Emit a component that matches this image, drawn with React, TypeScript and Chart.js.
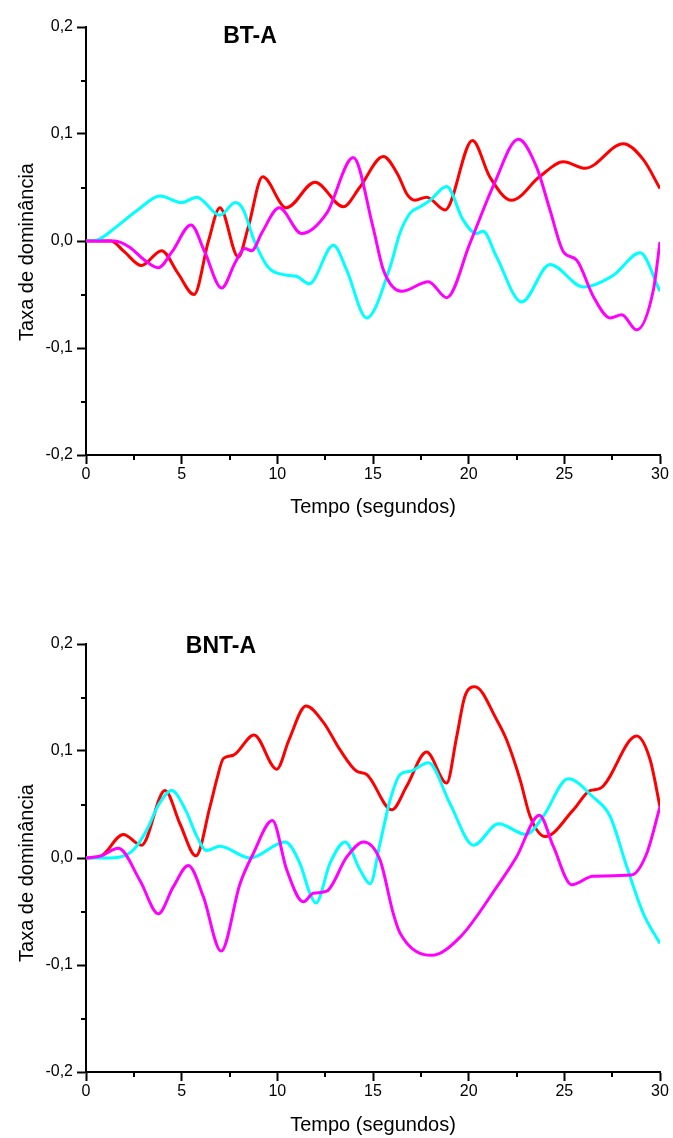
import React, { useEffect, useRef } from 'react';
import { Chart, registerables } from 'chart.js';

Chart.register(...registerables);

// ---------- shared axis data ----------
const xMajorStep = 5;
const yMajorStep = 0.1;
const xMinorTicks = [2.5, 7.5, 12.5, 17.5, 22.5, 27.5];
const yMinorTicks = [-0.15, -0.05, 0.05, 0.15];
const xTitle = 'Tempo (segundos)';
const yTitle = 'Taxa de dominância';

// ---------- BT-A ----------
const btRedT = [0, 1.3, 2.0, 2.9, 3.95, 4.8, 5.65, 6.4, 7.0, 7.96, 8.48, 9.23, 10.47, 11.97, 13.45, 14.3, 15.54, 16.3, 16.8, 17.2, 17.8, 18.77, 20.2, 21.1, 22.25, 23.7, 24.95, 26.1, 28.08, 29.13, 30];
const btRedV = [0, 0, -0.01, -0.023, -0.009, -0.03, -0.05, 0.0, 0.031, -0.015, 0.013, 0.06, 0.031, 0.055, 0.032, 0.05, 0.079, 0.062, 0.043, 0.038, 0.041, 0.029, 0.094, 0.06, 0.038, 0.06, 0.074, 0.068, 0.091, 0.076, 0.049];

const btCyanT = [0, 0.6, 1.5, 2.7, 3.87, 5.0, 5.79, 7.0, 7.8, 8.2, 8.8, 9.5, 10.5, 11.0, 11.67, 12.93, 13.62, 14.67, 15.9, 16.4, 16.94, 17.46, 17.98, 18.85, 19.7, 20.4, 20.75, 21.46, 22.77, 24.25, 26.0, 27.57, 28.96, 30];
const btCyanV = [0, 0.001, 0.012, 0.029, 0.042, 0.036, 0.041, 0.024, 0.036, 0.03, 0.0, -0.024, -0.032, -0.033, -0.04, -0.004, -0.027, -0.072, -0.024, 0.007, 0.026, 0.032, 0.038, 0.051, 0.02, 0.007, 0.009, -0.015, -0.057, -0.022, -0.043, -0.032, -0.011, -0.047];

const btMagT = [0, 1.5, 2.3, 3.0, 3.78, 4.5, 5.49, 6.2, 7.09, 7.8, 8.3, 8.66, 9.2, 10.1, 11.27, 12.58, 13.97, 15.0, 15.54, 16.5, 17.9, 18.85, 20.07, 21.3, 22.6, 23.55, 24.25, 24.95, 25.65, 26.52, 27.4, 28.0, 28.78, 29.65, 30];
const btMagV = [0, 0, -0.006, -0.017, -0.025, -0.01, 0.015, -0.01, -0.044, -0.02, -0.007, -0.009, 0.008, 0.031, 0.007, 0.026, 0.078, 0.013, -0.027, -0.047, -0.038, -0.053, -0.002, 0.052, 0.095, 0.069, 0.029, -0.01, -0.018, -0.052, -0.072, -0.069, -0.083, -0.046, -0.001];

// ---------- BNT-A ----------
const bntRedT = [0, 0.8, 1.95, 2.9, 4.13, 4.91, 5.75, 6.48, 6.83, 7.18, 7.7, 8.78, 9.97, 10.6, 11.5, 12.4, 13.28, 14.15, 14.67, 15.98, 16.76, 17.8, 18.85, 19.37, 19.8, 20.33, 21.47, 21.99, 22.69, 23.21, 24.0, 25.47, 26.34, 26.87, 28.78, 29.48, 30];
const bntRedV = [0, 0.002, 0.022, 0.012, 0.063, 0.032, 0.002, 0.048, 0.073, 0.093, 0.096, 0.115, 0.083, 0.11, 0.142, 0.127, 0.101, 0.081, 0.078, 0.045, 0.067, 0.099, 0.07, 0.113, 0.151, 0.16, 0.129, 0.11, 0.073, 0.039, 0.02, 0.045, 0.063, 0.065, 0.114, 0.092, 0.048];

const bntCyanT = [0, 1.0, 1.78, 2.5, 3.17, 3.8, 4.48, 5.2, 5.8, 6.3, 7.0, 8.57, 10.4, 11.18, 11.7, 12.02, 12.75, 13.54, 14.32, 14.85, 15.37, 15.89, 16.41, 16.94, 17.9, 19.02, 20.25, 21.56, 23.0, 23.9, 25.2, 26.5, 27.39, 28.26, 29.13, 30];
const bntCyanV = [0, 0, 0.001, 0.008, 0.026, 0.05, 0.063, 0.045, 0.02, 0.007, 0.011, 0.0, 0.015, -0.005, -0.033, -0.042, -0.005, 0.015, -0.011, -0.024, 0.014, 0.054, 0.078, 0.081, 0.089, 0.051, 0.012, 0.032, 0.022, 0.039, 0.074, 0.057, 0.039, -0.008, -0.052, -0.08];

const bntMagT = [0, 0.8, 1.69, 2.82, 3.78, 4.56, 5.35, 6.13, 7.06, 8.05, 8.74, 9.74, 10.49, 11.36, 11.88, 12.58, 13.63, 14.5, 15.37, 16.06, 16.41, 18.07, 19.55, 21.47, 22.5, 23.7, 24.42, 25.39, 26.5, 28.5, 29.3, 30];
const bntMagV = [0, 0.002, 0.009, -0.021, -0.052, -0.027, -0.007, -0.036, -0.087, -0.024, 0.004, 0.035, -0.011, -0.041, -0.033, -0.031, 0.001, 0.015, -0.002, -0.052, -0.07, -0.091, -0.074, -0.027, 0.001, 0.04, 0.011, -0.025, -0.017, -0.016, 0.004, 0.048];

const RED = '#FF0000';
const CYAN = '#00FFFF';
const MAGENTA = '#FF00FF';
const FONT = '"Liberation Sans", Arial, Helvetica, sans-serif';

const toPoints = (t: number[], v: number[]) => t.map((x, i) => ({ x, y: v[i] }));

const fmtY = (v: any) => {
  const n = Math.abs(Number(v)) < 1e-9 ? 0 : Number(v);
  return n.toFixed(1).replace('.', ',');
};

type PanelProps = {
  label: string;
  labelX: number;
  labelBaseline: number;
  top: number;
  height: number;
  padTop: number;
  xAxisHeight: number;
  xTitlePad: number;
  yTitleOffset: number;
  red: { x: number; y: number }[];
  cyan: { x: number; y: number }[];
  magenta: { x: number; y: number }[];
};

function Panel(p: PanelProps) {
  const ref = useRef<HTMLCanvasElement | null>(null);

  useEffect(() => {
    if (!ref.current) return;
    const decor = {
      id: 'decor',
      afterDraw(chart: any) {
        const { ctx, chartArea, scales } = chart;
        const xs = scales.x;
        const ys = scales.y;
        ctx.save();
        ctx.strokeStyle = '#000';
        ctx.lineWidth = 2;
        ctx.beginPath();
        for (const t of xMinorTicks) {
          const px = Math.round(xs.getPixelForValue(t));
          ctx.moveTo(px, chartArea.bottom);
          ctx.lineTo(px, chartArea.bottom + 5);
        }
        for (const v of yMinorTicks) {
          const py = Math.round(ys.getPixelForValue(v));
          ctx.moveTo(chartArea.left - 5, py);
          ctx.lineTo(chartArea.left, py);
        }
        ctx.stroke();
        ctx.fillStyle = '#000';
        ctx.font = 'bold 23px ' + FONT;
        ctx.textAlign = 'center';
        ctx.textBaseline = 'alphabetic';
        ctx.fillText(p.label, p.labelX, p.labelBaseline);
        ctx.font = '20px ' + FONT;
        ctx.translate(33, (chartArea.top + chartArea.bottom) / 2 + p.yTitleOffset);
        ctx.rotate(-Math.PI / 2);
        ctx.fillText(yTitle, 0, 0);
        ctx.restore();
      },
    };

    const chart = new Chart(ref.current, {
      type: 'line',
      data: {
        datasets: [
          { data: p.magenta, borderColor: MAGENTA },
          { data: p.cyan, borderColor: CYAN },
          { data: p.red, borderColor: RED },
        ] as any,
      },
      options: {
        responsive: false,
        animation: false,
        devicePixelRatio: 1,
        layout: { padding: { top: p.padTop, right: 13, left: 0, bottom: 0 } },
        plugins: {
          legend: { display: false },
          tooltip: { enabled: false },
          title: { display: false },
        },
        elements: {
          point: { radius: 0 },
          line: { borderWidth: 3, cubicInterpolationMode: 'monotone', fill: false },
        },
        scales: {
          x: {
            type: 'linear',
            min: 0,
            max: 30,
            afterFit: (s: any) => {
              s.height = p.xAxisHeight;
              s.paddingLeft = 0;
              s.paddingRight = 0;
            },
            border: { display: true, color: '#000', width: 2 },
            grid: { drawOnChartArea: false, drawTicks: true, tickLength: 9, tickColor: '#000', tickWidth: 2 },
            ticks: { stepSize: xMajorStep, color: '#000', font: { family: FONT, size: 16 }, padding: 1, maxRotation: 0, autoSkip: false },
            title: { display: true, text: xTitle, color: '#000', font: { family: FONT, size: 20 }, padding: { top: 0, bottom: p.xTitlePad } },
          },
          y: {
            type: 'linear',
            min: -0.2,
            max: 0.2,
            afterFit: (s: any) => {
              s.width = 86;
              s.paddingTop = 0;
              s.paddingBottom = 0;
            },
            border: { display: true, color: '#000', width: 2 },
            grid: { drawOnChartArea: false, drawTicks: true, tickLength: 9, tickColor: '#000', tickWidth: 2 },
            ticks: { stepSize: yMajorStep, color: '#000', font: { family: FONT, size: 16 }, padding: 4, callback: fmtY },
            title: { display: false },
          },
        },
      } as any,
      plugins: [decor],
    });
    return () => chart.destroy();
  }, []);

  return (
    <canvas
      ref={ref}
      width={673}
      height={p.height}
      style={{ position: 'absolute', left: 0, top: p.top, width: 673, height: p.height }}
    />
  );
}

export default function App() {
  return (
    <div style={{ position: 'absolute', left: 0, top: 0, width: 673, height: 1138, background: '#fff' }}>
      <Panel
        label="BT-A"
        labelX={250}
        labelBaseline={43}
        top={0}
        height={530}
        padTop={27}
        xAxisHeight={75}
        xTitlePad={11}
        yTitleOffset={11}
        red={toPoints(btRedT, btRedV)}
        cyan={toPoints(btCyanT, btCyanV)}
        magenta={toPoints(btMagT, btMagV)}
      />
      <Panel
        label="BNT-A"
        labelX={221}
        labelBaseline={53}
        top={600}
        height={538}
        padTop={44}
        xAxisHeight={66}
        xTitlePad={1}
        yTitleOffset={15}
        red={toPoints(bntRedT, bntRedV)}
        cyan={toPoints(bntCyanT, bntCyanV)}
        magenta={toPoints(bntMagT, bntMagV)}
      />
    </div>
  );
}
